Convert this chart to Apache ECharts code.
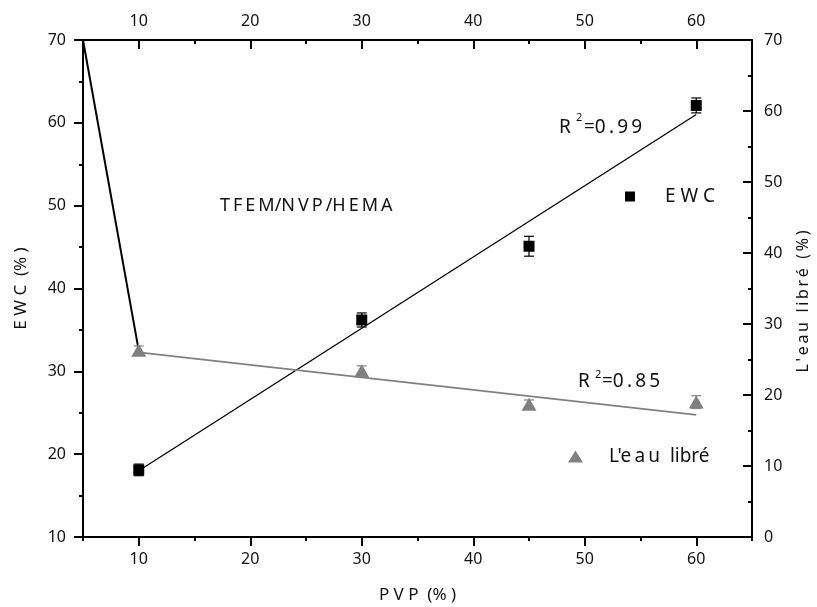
<!DOCTYPE html>
<html>
<head>
<meta charset="utf-8">
<script src="https://cdn.jsdelivr.net/npm/echarts@6/dist/echarts.min.js"></script>
<style>
html,body{margin:0;padding:0;background:#fff;}
#chart{width:817px;height:607px;}
</style>
</head>
<body>
<div id="chart"></div>
<script>
// ---- data ----
const pvp = [10, 30, 45, 60];
const ewc = [18.1, 36.2, 45.1, 62.1];
const ewcErr = [0.7, 0.85, 1.2, 0.9];
const eauLibre = [26.3, 23.4, 18.7, 19.0];
const eauErr = [0.6, 0.7, 0.6, 0.9];
const fitX = [10, 60];
const ewcFitY = [18.0, 61.0];
const eauFitY = [26.0, 17.2];
const steepX = [5, 10];
const steepY = [70, 32.5];
const xMajorTicks = [10, 20, 30, 40, 50, 60];
const xMinorTicks = [5, 15, 25, 35, 45, 55, 65];
const r2Ewc = '0.99';
const r2Eau = '0.85';

const FONT = 'Noto Sans';
const TS = '\u2009';
const zip = (a, b) => a.map((v, i) => [v, b[i]]);
const errData = (ys, es) => pvp.map((x, i) => [x, ys[i] - es[i], ys[i] + es[i]]);

function errRender(color) {
  return function (params, api) {
    const x = api.value(0);
    const lo = api.coord([x, api.value(1)]);
    const hi = api.coord([x, api.value(2)]);
    const w = 5;
    const st = { stroke: color, lineWidth: 1.2 };
    return {
      type: 'group',
      children: [
        { type: 'line', shape: { x1: lo[0], y1: lo[1], x2: hi[0], y2: hi[1] }, style: st },
        { type: 'line', shape: { x1: lo[0] - w, y1: lo[1], x2: lo[0] + w, y2: lo[1] }, style: st },
        { type: 'line', shape: { x1: hi[0] - w, y1: hi[1], x2: hi[0] + w, y2: hi[1] }, style: st }
      ]
    };
  };
}

const axisLineStyle = { lineStyle: { color: '#000', width: 2 } };
const labelStyle = { color: '#111', fontSize: 16, fontFamily: FONT };
const nameStyle = { fontSize: 17, color: '#111', fontFamily: FONT };

const chart = echarts.init(document.getElementById('chart'), null, { renderer: 'canvas' });

const option = {
  backgroundColor: '#fff',
  animation: false,
  grid: { left: 83, right: 65, top: 40, bottom: 70, containLabel: false, outerBoundsMode: 'none' },
  xAxis: [
    {
      type: 'value', position: 'bottom', min: 5, max: 65,
      axisLine: axisLineStyle,
      axisTick: { customValues: xMajorTicks, length: 9, inside: false, lineStyle: { color: '#000', width: 2 } },
      axisLabel: Object.assign({ customValues: xMajorTicks, margin: 14 }, labelStyle),
      splitLine: { show: false },
      name: 'P V P  (% )', nameLocation: 'middle', nameGap: 50,
      nameTextStyle: nameStyle
    },
    {
      type: 'value', position: 'bottom', min: 5, max: 65,
      axisLine: { show: false },
      axisTick: { customValues: xMinorTicks, length: 4, inside: false, lineStyle: { color: '#000', width: 2 } },
      axisLabel: { show: false }, splitLine: { show: false }
    },
    {
      type: 'value', position: 'top', min: 5, max: 65,
      axisLine: axisLineStyle,
      axisTick: { customValues: xMajorTicks, length: 9, inside: true, lineStyle: { color: '#000', width: 2 } },
      axisLabel: Object.assign({ customValues: xMajorTicks, margin: 11 }, labelStyle),
      splitLine: { show: false }
    },
    {
      type: 'value', position: 'top', min: 5, max: 65,
      axisLine: { show: false },
      axisTick: { customValues: xMinorTicks, length: 4, inside: true, lineStyle: { color: '#000', width: 2 } },
      axisLabel: { show: false }, splitLine: { show: false }
    }
  ],
  yAxis: [
    {
      type: 'value', position: 'left', min: 10, max: 70, interval: 10,
      axisLine: Object.assign({ show: true }, axisLineStyle),
      axisTick: { show: true, length: 9, inside: false, lineStyle: { color: '#000', width: 2 } },
      minorTick: { show: true, splitNumber: 2, length: 4, lineStyle: { color: '#000', width: 2 } },
      axisLabel: Object.assign({ margin: 17 }, labelStyle),
      splitLine: { show: false },
      name: 'E W C  (% )', nameLocation: 'middle', nameGap: 53,
      nameTextStyle: nameStyle
    },
    {
      type: 'value', position: 'right', min: 0, max: 70, interval: 10,
      axisLine: Object.assign({ show: true }, axisLineStyle),
      axisTick: { show: true, length: 9, inside: true, lineStyle: { color: '#000', width: 2 } },
      minorTick: { show: true, splitNumber: 2, length: 4, lineStyle: { color: '#000', width: 2 } },
      axisLabel: Object.assign({ margin: 12 }, labelStyle),
      splitLine: { show: false },
      name: "L'eau libré (%)".split('').join(TS), nameLocation: 'middle', nameGap: 43,
      nameTextStyle: { fontSize: 16, color: '#111', fontFamily: FONT, padding: [0, 26, 0, 0] }
    }
  ],
  legend: [
    {
      data: [{ name: 'EWC', icon: 'rect' }],
      left: 620, top: 182, itemWidth: 10, itemHeight: 10,
      formatter: () => 'E W C',
      textStyle: { fontSize: 19, color: '#111', fontFamily: FONT, padding: [0, 0, 0, 25] },
      selectedMode: false
    },
    {
      data: [{ name: "L'eau libré", icon: 'triangle' }],
      left: 563, top: 442, itemWidth: 15, itemHeight: 12,
      formatter: () => "L'e" + TS + 'a' + TS + 'u  libré',
      textStyle: { fontSize: 19, color: '#111', fontFamily: FONT, padding: [0, 0, 0, 21] },
      selectedMode: false
    }
  ],
  graphic: [
    { type: 'text', left: 220, top: 197, style: { text: ['T', 'F', 'E', 'M/N', 'V', 'P', '/H', 'E', 'M', 'A'].join(TS), fontSize: 18, fontFamily: FONT, fill: '#111' } },
    { type: 'text', left: 559, top: 118, style: { text: 'R', fontSize: 19, fontFamily: FONT, fill: '#111' } },
    { type: 'text', left: 576, top: 112, style: { text: '2', fontSize: 11, fontFamily: FONT, fill: '#111' } },
    { type: 'text', left: 584, top: 118, style: { text: '=' + r2Ewc.split('').join(TS), fontSize: 19, fontFamily: FONT, fill: '#111' } },
    { type: 'text', left: 578, top: 372, style: { text: 'R', fontSize: 19, fontFamily: FONT, fill: '#111' } },
    { type: 'text', left: 595, top: 369, style: { text: '2', fontSize: 11, fontFamily: FONT, fill: '#111' } },
    { type: 'text', left: 602, top: 372, style: { text: '=' + r2Eau.split('').join(TS), fontSize: 19, fontFamily: FONT, fill: '#111' } }
  ],
  series: [
    {
      name: 'steep', type: 'line', xAxisIndex: 0, yAxisIndex: 0,
      data: zip(steepX, steepY), symbol: 'none',
      lineStyle: { color: '#000', width: 2 }, z: 3, silent: true
    },
    {
      name: 'ewcFit', type: 'line', xAxisIndex: 0, yAxisIndex: 0,
      data: zip(fitX, ewcFitY), symbol: 'none',
      lineStyle: { color: '#000', width: 1.3 }, z: 3, silent: true
    },
    {
      name: 'eauFit', type: 'line', xAxisIndex: 0, yAxisIndex: 1,
      data: zip(fitX, eauFitY), symbol: 'none',
      lineStyle: { color: '#808080', width: 1.6 }, z: 3, silent: true
    },
    {
      name: 'ewcErr', type: 'custom', xAxisIndex: 0, yAxisIndex: 0,
      data: errData(ewc, ewcErr), encode: { x: 0, y: [1, 2] },
      renderItem: errRender('#000'), z: 4, silent: true
    },
    {
      name: 'eauErr', type: 'custom', xAxisIndex: 0, yAxisIndex: 1,
      data: errData(eauLibre, eauErr), encode: { x: 0, y: [1, 2] },
      renderItem: errRender('#808080'), z: 4, silent: true
    },
    {
      name: 'EWC', type: 'scatter', xAxisIndex: 0, yAxisIndex: 0,
      data: zip(pvp, ewc), symbol: 'rect', symbolSize: 11,
      itemStyle: { color: '#000', opacity: 1 }, z: 5
    },
    {
      name: "L'eau libré", type: 'scatter', xAxisIndex: 0, yAxisIndex: 1,
      data: zip(pvp, eauLibre), symbol: 'triangle', symbolSize: [15, 13],
      itemStyle: { color: '#808080', opacity: 1 }, z: 5
    }
  ]
};
chart.setOption(option);
</script>
</body>
</html>
